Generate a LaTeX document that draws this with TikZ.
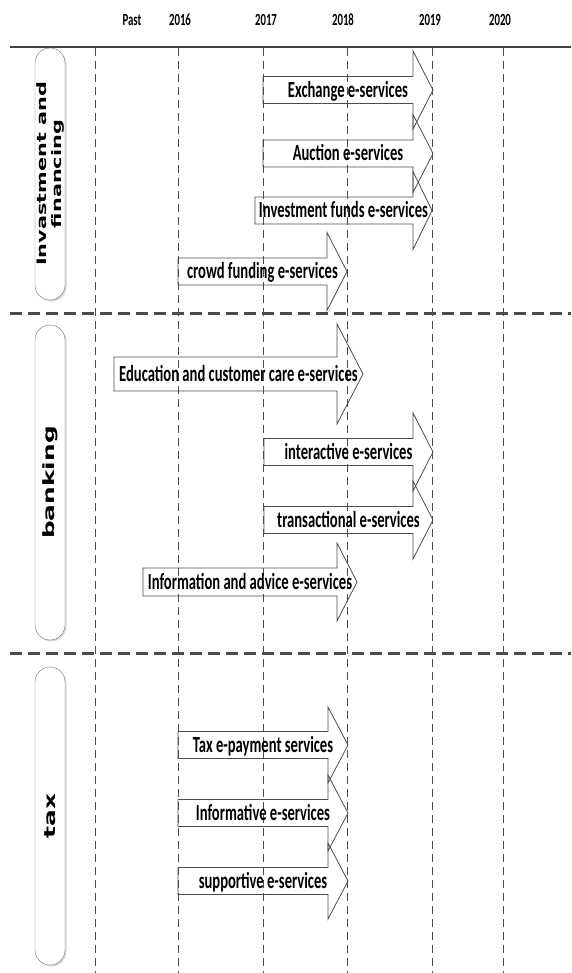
\documentclass[tikz,border=0pt]{standalone}
\usepackage{fontspec}
\usepackage{graphicx}
\newfontfamily\calfont{Carlito}
\newfontfamily\pillfont{DejaVu Sans}
\newcommand{\slim}[1]{\scalebox{0.635}[1]{#1}}
\newcommand{\wide}[1]{\scalebox{1.6}[1]{#1}}
\tikzset{every node/.style={inner sep=0pt}}
\tikzset{year/.style={anchor=base,font=\calfont\bfseries\fontsize{17}{20}\selectfont}}
\tikzset{lbl/.style={anchor=base,font=\calfont\bfseries\fontsize{23}{26}\selectfont}}
\tikzset{pill/.style={draw=black!55,fill=white,rounded corners=15pt,minimum width=30pt}}
\tikzset{pillshade/.style={fill=black!15,rounded corners=15pt,minimum width=30pt}}
\tikzset{pilltext/.style={rotate=90,align=center,font=\pillfont\bfseries\fontsize{15.5}{15}\selectfont}}
\tikzset{sep/.style={draw=black!70,line width=3pt,dash pattern=on 12pt off 6pt}}
\tikzset{grid/.style={draw=black!70,line width=0.8pt,dash pattern=on 8pt off 5pt}}
\tikzset{arr/.style={draw=black!70,line width=0.8pt}}

\begin{document}
\begin{tikzpicture}[x=1pt,y=-1pt]
  \useasboundingbox (0,0) rectangle (571,973);
  % time scale
  \foreach \n/\x/\t in {past/132/Past,y16/180/2016,y17/266/2017,y18/343/2018,y19/430/2019,y20/500/2020}
    \node[year] (\n) at (\x,26) {\slim{\t}};
  \foreach \n/\x in {past/95,y16/178,y17/263,y18/347,y19/432,y20/503} {
    \coordinate (\n top) at (\x,48);
    \coordinate (\n bot) at (\x,973);
    \draw[grid] (\n top) -- (\n bot);
  }
  \coordinate (L0) at (10,47);  \coordinate (R0) at (571,47);
  \coordinate (L1) at (10,313); \coordinate (R1) at (571,313);
  \coordinate (L2) at (10,653); \coordinate (R2) at (571,653);
  \draw[draw=black!75,line width=2.5pt] (L0) -- (R0);
  \draw[sep] (L1) -- (R1);
  \draw[sep] (L2) -- (R2);
  % sectors
  \foreach \n/\y/\h in {inv/174/252,bank/482.5/315,tax/816/298} {
    \node[pillshade,minimum height=\h pt] at (51.5,\y+1.5) {};
    \node[pill,minimum height=\h pt] (\n) at (50,\y) {};
  }
  \node[pilltext,font=\pillfont\bfseries\fontsize{13}{15}\selectfont] (invtext) at (inv) {\wide{Invastment and}\\\wide{financing}};
  \node[pilltext] (banktext) at (bank) {\wide{banking}};
  \node[pilltext] (taxtext) at (tax) {\wide{tax}};
  % e-services
  \foreach \n/\l/\r/\s/\y/\b/\h/\t in {
      ex/263/413/433/90/13.5/39/Exchange e-services,
      au/263/413/433/153.5/13.5/39/Auction e-services,
      fu/255/413/432/210.5/13.5/39/Investment funds e-services,
      cr/178/327/347/271.5/13.5/39/crowd funding e-services,
      ed/114/337/363/374/17/50/Education and customer care e-services,
      it/264/413/433/452/13.5/39/interactive e-services,
      tr/264/413/433/520/13.5/39/transactional e-services,
      ia/143/337/357/582/14/39/Information and advice e-services,
      tp/178/328/348/745/13.5/38/Tax e-payment services,
      im/178/328/348/813/13.5/38/Informative e-services,
      su/178/328/348/881/13.5/38/supportive e-services} {
    \draw[arr] (\l,\y-\b) -- (\r,\y-\b) -- (\r,\y-\h) -- (\s,\y) -- (\r,\y+\h) -- (\r,\y+\b) -- (\l,\y+\b) -- cycle;
    \node[lbl] (\n) at ({(\l+\s)/2},\y+7.5) {\slim{\t}};
  }
\end{tikzpicture}
\end{document}
